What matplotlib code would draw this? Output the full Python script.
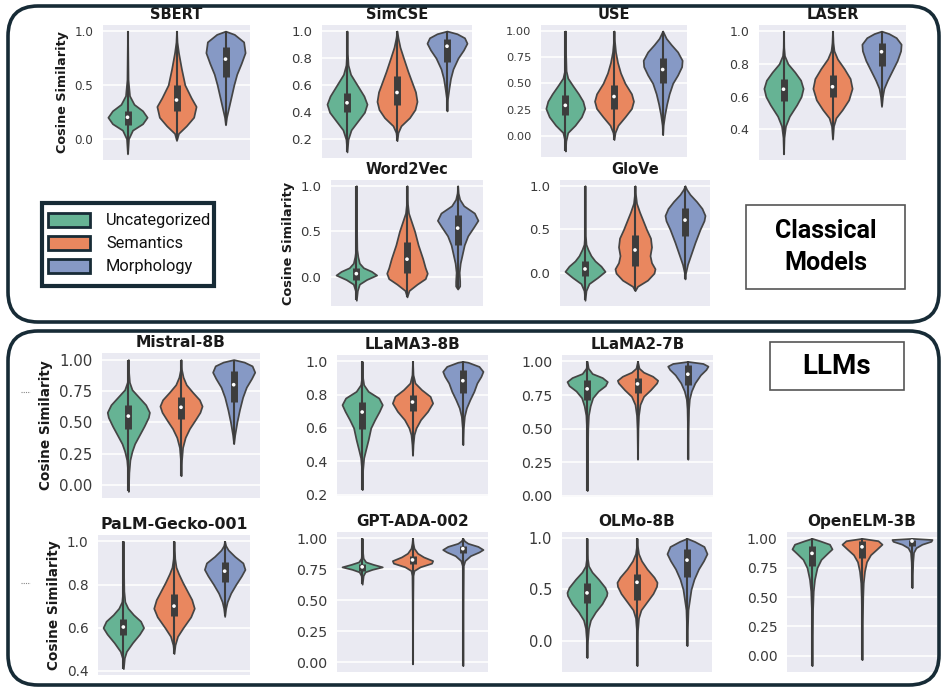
import matplotlib
matplotlib.use("Agg")
import matplotlib.pyplot as plt
from matplotlib.patches import FancyBboxPatch, Rectangle
import numpy as np

# ---------------- data ----------------
categories = ["Uncategorized", "Semantics", "Morphology"]
colors = ["#66b394", "#e9875f", "#8699c5"]
ylabel_text = "Cosine Similarity"

# violin profiles: (cosine value, relative half-width)
sbert_profiles = [
    [(-0.14, 0), (0.0, 0.02), (0.08, 0.1), (0.14, 0.3), (0.2, 0.39), (0.26, 0.3), (0.32, 0.13), (0.4, 0.04), (0.55, 0.01), (1.0, 0)],
    [(-0.015, 0), (0.05, 0.04), (0.12, 0.2), (0.2, 0.35), (0.3, 0.4), (0.38, 0.3), (0.5, 0.17), (0.65, 0.1), (0.8, 0.04), (0.9, 0.01), (1.0, 0)],
    [(0.13, 0), (0.2, 0.02), (0.3, 0.07), (0.4, 0.12), (0.5, 0.17), (0.6, 0.23), (0.7, 0.32), (0.8, 0.4), (0.9, 0.37), (0.97, 0.18), (1.0, 0)],
]
sbert_boxes = [(0.13, 0.2, 0.26), (0.26, 0.36, 0.5), (0.57, 0.74, 0.85)]
sbert_ticks = ["0.0", "0.5", "1.0"]

simcse_profiles = [
    [(0.107, 0), (0.2, 0.02), (0.27, 0.08), (0.33, 0.2), (0.4, 0.34), (0.46, 0.39), (0.52, 0.33), (0.6, 0.2), (0.68, 0.07), (0.75, 0.02), (0.85, 0.005), (1.0, 0)],
    [(0.19, 0), (0.25, 0.02), (0.3, 0.08), (0.36, 0.25), (0.42, 0.36), (0.48, 0.4), (0.55, 0.37), (0.62, 0.3), (0.7, 0.22), (0.8, 0.13), (0.88, 0.06), (0.95, 0.02), (1.0, 0)],
    [(0.41, 0), (0.5, 0.01), (0.58, 0.04), (0.65, 0.07), (0.72, 0.12), (0.8, 0.22), (0.86, 0.33), (0.91, 0.4), (0.95, 0.35), (0.98, 0.2), (1.0, 0)],
]
simcse_boxes = [(0.40, 0.47, 0.54), (0.455, 0.546, 0.67), (0.773, 0.888, 0.94)]
simcse_ticks = ["0.2", "0.4", "0.6", "0.8", "1.0"]

use_profiles = [
    [(-0.146, 0), (-0.05, 0.01), (0.03, 0.05), (0.1, 0.2), (0.18, 0.33), (0.26, 0.4), (0.33, 0.36), (0.4, 0.27), (0.48, 0.15), (0.55, 0.05), (0.62, 0.015), (0.8, 0.005), (1.0, 0)],
    [(-0.037, 0), (0.03, 0.02), (0.1, 0.08), (0.18, 0.22), (0.26, 0.35), (0.33, 0.39), (0.4, 0.35), (0.5, 0.22), (0.6, 0.13), (0.7, 0.07), (0.8, 0.03), (0.9, 0.01), (1.0, 0)],
    [(0.01, 0), (0.1, 0.01), (0.2, 0.04), (0.3, 0.08), (0.4, 0.13), (0.5, 0.2), (0.58, 0.3), (0.66, 0.38), (0.72, 0.39), (0.8, 0.3), (0.87, 0.17), (0.93, 0.07), (1.0, 0)],
]
use_boxes = [(0.196, 0.29, 0.39), (0.258, 0.374, 0.486), (0.5, 0.632, 0.74)]
use_ticks = ["0.00", "0.25", "0.50", "0.75", "1.00"]

laser_profiles = [
    [(0.25, 0), (0.35, 0.01), (0.42, 0.04), (0.48, 0.12), (0.55, 0.27), (0.6, 0.36), (0.65, 0.4), (0.7, 0.35), (0.75, 0.23), (0.8, 0.09), (0.85, 0.02), (0.9, 0.005), (1.0, 0)],
    [(0.34, 0), (0.42, 0.02), (0.47, 0.07), (0.52, 0.2), (0.58, 0.33), (0.65, 0.4), (0.71, 0.36), (0.77, 0.24), (0.83, 0.1), (0.88, 0.03), (0.93, 0.01), (1.0, 0)],
    [(0.54, 0), (0.6, 0.02), (0.65, 0.05), (0.7, 0.12), (0.76, 0.22), (0.82, 0.32), (0.88, 0.39), (0.92, 0.4), (0.96, 0.3), (0.985, 0.15), (1.0, 0)],
]
laser_boxes = [(0.573, 0.645, 0.705), (0.595, 0.66, 0.73), (0.79, 0.874, 0.93)]
laser_ticks = ["0.4", "0.6", "0.8", "1.0"]

word2vec_profiles = [
    [(-0.257, 0), (-0.15, 0.02), (-0.08, 0.06), (-0.03, 0.2), (0.02, 0.4), (0.06, 0.3), (0.1, 0.14), (0.15, 0.06), (0.22, 0.03), (0.3, 0.01), (0.5, 0.005), (1.0, 0)],
    [(-0.22, 0), (-0.15, 0.04), (-0.08, 0.2), (-0.02, 0.36), (0.04, 0.4), (0.1, 0.36), (0.2, 0.31), (0.35, 0.22), (0.5, 0.15), (0.6, 0.09), (0.7, 0.03), (0.8, 0.01), (1.0, 0)],
    [(-0.134, 0), (-0.1, 0.04), (-0.05, 0.04), (0.05, 0.03), (0.15, 0.05), (0.25, 0.09), (0.35, 0.13), (0.45, 0.2), (0.55, 0.32), (0.62, 0.4), (0.7, 0.33), (0.78, 0.12), (0.85, 0.04), (0.92, 0.01), (1.0, 0)],
]
word2vec_boxes = [(-0.035, 0.035, 0.095), (0.042, 0.194, 0.377), (0.352, 0.535, 0.676)]
word2vec_ticks = ["0.0", "0.5", "1.0"]

glove_profiles = [
    [(-0.31, 0), (-0.2, 0.02), (-0.12, 0.08), (-0.05, 0.25), (0.02, 0.4), (0.08, 0.32), (0.14, 0.2), (0.2, 0.12), (0.27, 0.06), (0.33, 0.02), (0.45, 0.005), (1.0, 0)],
    [(-0.2, 0), (-0.15, 0.05), (-0.08, 0.25), (0.0, 0.38), (0.05, 0.4), (0.12, 0.33), (0.2, 0.3), (0.3, 0.33), (0.4, 0.31), (0.5, 0.23), (0.6, 0.16), (0.7, 0.09), (0.8, 0.03), (0.9, 0.01), (1.0, 0)],
    [(-0.066, 0), (0.0, 0.01), (0.1, 0.05), (0.2, 0.11), (0.35, 0.2), (0.5, 0.3), (0.6, 0.38), (0.66, 0.4), (0.74, 0.34), (0.82, 0.23), (0.9, 0.1), (0.96, 0.03), (1.0, 0)],
]
glove_boxes = [(-0.03, 0.048, 0.14), (0.08, 0.265, 0.44), (0.423, 0.607, 0.747)]
glove_ticks = ["0.0", "0.5", "1.0"]

mistral_profiles = [
    [(-0.05, 0), (0.1, 0.01), (0.2, 0.03), (0.27, 0.07), (0.33, 0.12), (0.4, 0.21), (0.47, 0.3), (0.54, 0.38), (0.58, 0.4), (0.64, 0.33), (0.7, 0.2), (0.76, 0.07), (0.82, 0.02), (0.9, 0.005), (1.0, 0)],
    [(0.075, 0), (0.2, 0.01), (0.3, 0.03), (0.38, 0.08), (0.45, 0.16), (0.52, 0.27), (0.58, 0.36), (0.63, 0.4), (0.68, 0.35), (0.74, 0.22), (0.8, 0.1), (0.86, 0.04), (0.92, 0.01), (1.0, 0)],
    [(0.33, 0), (0.4, 0.02), (0.5, 0.06), (0.6, 0.11), (0.7, 0.17), (0.78, 0.24), (0.85, 0.34), (0.9, 0.4), (0.95, 0.35), (0.98, 0.2), (1.0, 0)],
]
mistral_boxes = [(0.45, 0.55, 0.64), (0.53, 0.62, 0.70), (0.66, 0.80, 0.91)]
mistral_ticks = ["0.00", "0.25", "0.50", "0.75", "1.00"]

llama3_profiles = [
    [(0.23, 0), (0.35, 0.01), (0.42, 0.03), (0.47, 0.07), (0.53, 0.12), (0.6, 0.17), (0.65, 0.25), (0.7, 0.34), (0.74, 0.4), (0.78, 0.33), (0.82, 0.12), (0.86, 0.03), (0.9, 0.01), (1.0, 0)],
    [(0.436, 0), (0.5, 0.01), (0.56, 0.03), (0.6, 0.07), (0.65, 0.16), (0.7, 0.3), (0.75, 0.4), (0.79, 0.35), (0.83, 0.18), (0.87, 0.05), (0.92, 0.01), (1.0, 0)],
    [(0.5, 0), (0.6, 0.01), (0.67, 0.03), (0.72, 0.07), (0.77, 0.14), (0.82, 0.22), (0.87, 0.28), (0.91, 0.36), (0.94, 0.4), (0.97, 0.32), (0.995, 0.1), (1.0, 0)],
]
llama3_boxes = [(0.596, 0.696, 0.756), (0.70, 0.756, 0.80), (0.81, 0.884, 0.95)]
llama3_ticks = ["0.2", "0.4", "0.6", "0.8", "1.0"]

llama2_profiles = [
    [(0.04, 0), (0.3, 0.005), (0.5, 0.012), (0.6, 0.025), (0.67, 0.06), (0.73, 0.11), (0.78, 0.22), (0.82, 0.36), (0.85, 0.4), (0.88, 0.3), (0.91, 0.1), (0.95, 0.02), (1.0, 0)],
    [(0.273, 0), (0.5, 0.008), (0.6, 0.02), (0.68, 0.05), (0.74, 0.12), (0.79, 0.26), (0.84, 0.38), (0.86, 0.4), (0.89, 0.3), (0.92, 0.12), (0.95, 0.03), (1.0, 0)],
    [(0.273, 0), (0.5, 0.006), (0.65, 0.015), (0.72, 0.03), (0.78, 0.07), (0.84, 0.14), (0.9, 0.25), (0.94, 0.36), (0.965, 0.4), (0.985, 0.3), (1.0, 0)],
]
llama2_boxes = [(0.714, 0.796, 0.863), (0.763, 0.833, 0.88), (0.826, 0.905, 0.97)]
llama2_ticks = ["0.00", "0.25", "0.50", "0.75", "1.00"]

palm_profiles = [
    [(0.41, 0), (0.46, 0.02), (0.49, 0.06), (0.53, 0.18), (0.57, 0.32), (0.6, 0.4), (0.63, 0.34), (0.66, 0.2), (0.69, 0.09), (0.72, 0.03), (0.77, 0.01), (0.85, 0.005), (1.0, 0)],
    [(0.48, 0), (0.52, 0.02), (0.56, 0.07), (0.6, 0.18), (0.65, 0.33), (0.69, 0.4), (0.73, 0.35), (0.77, 0.26), (0.81, 0.17), (0.85, 0.09), (0.88, 0.04), (0.92, 0.015), (1.0, 0)],
    [(0.652, 0), (0.69, 0.02), (0.72, 0.05), (0.76, 0.12), (0.8, 0.22), (0.84, 0.33), (0.87, 0.4), (0.9, 0.36), (0.93, 0.2), (0.96, 0.07), (0.98, 0.02), (1.0, 0)],
]
palm_boxes = [(0.565, 0.603, 0.64), (0.652, 0.70, 0.757), (0.81, 0.862, 0.904)]
palm_ticks = ["0.4", "0.6", "0.8", "1.0"]

gpt_profiles = [
    [(0.63, 0), (0.7, 0.02), (0.73, 0.06), (0.75, 0.2), (0.77, 0.4), (0.79, 0.22), (0.81, 0.07), (0.84, 0.02), (0.9, 0.005), (1.0, 0)],
    [(-0.013, 0), (0.5, 0.005), (0.7, 0.01), (0.74, 0.03), (0.77, 0.15), (0.8, 0.38), (0.82, 0.4), (0.85, 0.22), (0.88, 0.1), (0.92, 0.03), (0.96, 0.01), (1.0, 0)],
    [(-0.027, 0), (0.5, 0.005), (0.78, 0.01), (0.82, 0.04), (0.86, 0.15), (0.89, 0.32), (0.91, 0.4), (0.935, 0.3), (0.96, 0.1), (0.98, 0.03), (1.0, 0)],
]
gpt_boxes = [(0.738, 0.77, 0.79), (0.79, 0.826, 0.858), (0.88, 0.917, 0.94)]
gpt_ticks = ["0.00", "0.25", "0.50", "0.75", "1.00"]

olmo_profiles = [
    [(-0.167, 0), (0.0, 0.01), (0.12, 0.03), (0.2, 0.07), (0.28, 0.17), (0.36, 0.3), (0.44, 0.39), (0.47, 0.4), (0.52, 0.36), (0.6, 0.23), (0.67, 0.1), (0.73, 0.03), (0.8, 0.01), (1.0, 0)],
    [(-0.246, 0), (0.1, 0.01), (0.22, 0.03), (0.3, 0.08), (0.38, 0.2), (0.46, 0.32), (0.53, 0.39), (0.57, 0.4), (0.62, 0.34), (0.7, 0.2), (0.78, 0.09), (0.85, 0.03), (0.92, 0.01), (1.0, 0)],
    [(-0.05, 0), (0.15, 0.01), (0.3, 0.02), (0.4, 0.05), (0.5, 0.08), (0.6, 0.14), (0.7, 0.23), (0.78, 0.33), (0.85, 0.4), (0.92, 0.34), (0.97, 0.15), (1.0, 0)],
]
olmo_boxes = [(0.367, 0.466, 0.564), (0.40, 0.57, 0.656), (0.623, 0.787, 0.892)]
olmo_ticks = ["0.0", "0.5", "1.0"]

openelm_profiles = [
    [(-0.085, 0), (0.2, 0.008), (0.4, 0.012), (0.55, 0.025), (0.65, 0.05), (0.75, 0.1), (0.82, 0.18), (0.87, 0.3), (0.91, 0.4), (0.95, 0.35), (0.98, 0.15), (1.0, 0)],
    [(-0.034, 0), (0.3, 0.008), (0.5, 0.015), (0.62, 0.025), (0.72, 0.05), (0.8, 0.09), (0.86, 0.17), (0.91, 0.3), (0.95, 0.4), (0.98, 0.32), (1.0, 0)],
    [(0.58, 0), (0.7, 0.008), (0.8, 0.015), (0.88, 0.03), (0.92, 0.08), (0.95, 0.2), (0.975, 0.38), (0.99, 0.4), (1.0, 0)],
]
openelm_boxes = [(0.764, 0.872, 0.935), (0.835, 0.928, 0.977), (0.935, 0.977, 0.99)]
openelm_ticks = ["0.00", "0.25", "0.50", "0.75", "1.00"]

panels = [
    ("SBERT", sbert_profiles, sbert_boxes, sbert_ticks),
    ("SimCSE", simcse_profiles, simcse_boxes, simcse_ticks),
    ("USE", use_profiles, use_boxes, use_ticks),
    ("LASER", laser_profiles, laser_boxes, laser_ticks),
    ("Word2Vec", word2vec_profiles, word2vec_boxes, word2vec_ticks),
    ("GloVe", glove_profiles, glove_boxes, glove_ticks),
    ("Mistral-8B", mistral_profiles, mistral_boxes, mistral_ticks),
    ("LLaMA3-8B", llama3_profiles, llama3_boxes, llama3_ticks),
    ("LLaMA2-7B", llama2_profiles, llama2_boxes, llama2_ticks),
    ("PaLM-Gecko-001", palm_profiles, palm_boxes, palm_ticks),
    ("GPT-ADA-002", gpt_profiles, gpt_boxes, gpt_ticks),
    ("OLMo-8B", olmo_profiles, olmo_boxes, olmo_ticks),
    ("OpenELM-3B", openelm_profiles, openelm_boxes, openelm_ticks),
]

# ---------------- layout: pixel box (x0, y0, x1, y1), ylabel flag, tick / title / ylabel sizes ----------------
W, H = 942, 688
layout = {
    "SBERT": ((103, 25, 250, 160), True, 8.6, 10.5, 9.2),
    "SimCSE": ((322, 25, 472, 158), False, 9.5, 10.5, 9.2),
    "USE": ((541, 25, 687, 157), False, 8.2, 10.5, 9.2),
    "LASER": ((759, 25, 906, 160), False, 9.0, 10.5, 9.2),
    "Word2Vec": ((331, 180, 483, 306), True, 9.5, 10.5, 9.3),
    "GloVe": ((560, 180, 710, 306), False, 9.5, 10.5, 9.3),
    "Mistral-8B": ((102, 353, 260, 498), True, 10.8, 11.2, 9.8),
    "LLaMA3-8B": ((337, 355, 488, 496), False, 10.2, 11.0, 9.8),
    "LLaMA2-7B": ((562, 355, 713, 497), False, 10.2, 10.8, 9.8),
    "PaLM-Gecko-001": ((98, 535, 250, 675), True, 9.8, 11.3, 9.8),
    "GPT-ADA-002": ((337, 532, 488, 672), False, 10.2, 11.0, 9.8),
    "OLMo-8B": ((562, 532, 712, 672), False, 10.5, 11.0, 9.8),
    "OpenELM-3B": ((787, 532, 937, 672), False, 10.0, 11.0, 9.8),
}

EDGE = "#454545"
BOXC = "#3d3d3d"
BORDER = "#172b36"

fig = plt.figure(figsize=(W / 100, H / 100), dpi=100)
fig.patch.set_facecolor("white")

for name, profiles, boxes, ticks in panels:
    (x0, y0, x1, y1), has_ylabel, tsize, titsize, ylsize = layout[name]
    ax = fig.add_axes([x0 / W, 1 - y1 / H, (x1 - x0) / W, (y1 - y0) / H])
    ax.set_facecolor("#EAEAF2")
    for s in ax.spines.values():
        s.set_visible(False)
    ax.set_axisbelow(True)
    ax.grid(axis="y", color="white", lw=1.1)
    ax.grid(axis="x", visible=False)

    positions = list(range(len(categories)))
    vpstats = []
    for prof, (q1, med, q3) in zip(profiles, boxes):
        ys = np.array([p[0] for p in prof], dtype=float)
        ws = np.array([p[1] for p in prof], dtype=float)
        vpstats.append(dict(coords=ys, vals=ws, mean=med, median=med,
                            min=ys.min(), max=ys.max()))
    parts = ax.violin(vpstats, positions=positions, widths=0.8,
                      showmeans=False, showextrema=False, showmedians=False)
    for body, c in zip(parts["bodies"], colors):
        body.set_facecolor(c)
        body.set_edgecolor(EDGE)
        body.set_linewidth(1.25)
        body.set_alpha(1)
        body.set_zorder(2)

    mins = [s["min"] for s in vpstats]
    maxs = [s["max"] for s in vpstats]
    ax.vlines(positions, mins, maxs, color=BOXC, lw=1.5, zorder=3)
    ax.vlines(positions, [b[0] for b in boxes], [b[2] for b in boxes],
              color=BOXC, lw=5, zorder=3)
    ax.scatter(positions, [b[1] for b in boxes], s=7, color="white",
               edgecolors="none", zorder=4)

    ax.set_xlim(-0.5, 2.5)
    ax.set_xticks([])
    ax.set_yticks([float(t) for t in ticks])
    ax.set_yticklabels(ticks)
    ax.tick_params(axis="y", length=0, pad=7, labelsize=tsize, labelcolor="#3a3a3a")
    ax.set_title(name, fontweight="bold", fontsize=titsize, pad=4, color="#1a1a1a")
    if has_ylabel:
        ax.set_ylabel(ylabel_text, fontweight="bold", fontsize=ylsize, labelpad=4, color="#1a1a1a")

# ---------------- overlay in pixel coordinates ----------------
ov = fig.add_axes([0, 0, 1, 1], zorder=10)
ov.set_xlim(0, W)
ov.set_ylim(H, 0)
ov.set_axis_off()
ov.patch.set_alpha(0)

for (bx0, by0, bx1, by1) in [(8, 6, 939, 322), (8, 331, 939, 685)]:
    ov.add_patch(FancyBboxPatch((bx0, by0), bx1 - bx0, by1 - by0,
                                boxstyle="round,pad=0,rounding_size=30",
                                fc="none", ec=BORDER, lw=2.6))

# legend
ov.add_patch(Rectangle((42, 203), 172, 83, fc="white", ec=BORDER, lw=3))
for i, (lab, c) in enumerate(zip(categories, colors)):
    yc = 220 + 23 * i
    ov.add_patch(Rectangle((48, yc - 7), 42, 14, fc=c, ec=BORDER, lw=2))
    ov.text(106, yc, lab, fontsize=11.8, va="center", ha="left",
            family=["Roboto", "DejaVu Sans"], color="#111111")

# group label boxes
ov.add_patch(Rectangle((746, 205), 159, 84, fc="white", ec="#555555", lw=1.2))
ov.text(825.5, 247, "Classical\nModels", fontsize=18, fontweight="bold",
        ha="center", va="center", linespacing=1.45,
        family=["Roboto", "DejaVu Sans"], color="black")
ov.add_patch(Rectangle((770, 342), 134, 48, fc="white", ec="#555555", lw=1.2))
ov.text(837, 366, "LLMs", fontsize=20, fontweight="bold", ha="center",
        va="center", family=["Roboto", "DejaVu Sans"], color="black")

# small dotted marks at left
for yy in (392, 583):
    ov.plot([21, 30], [yy, yy], ls=(0, (1, 1)), color="#888888", lw=0.8)

fig.savefig("out.png", dpi=100)
